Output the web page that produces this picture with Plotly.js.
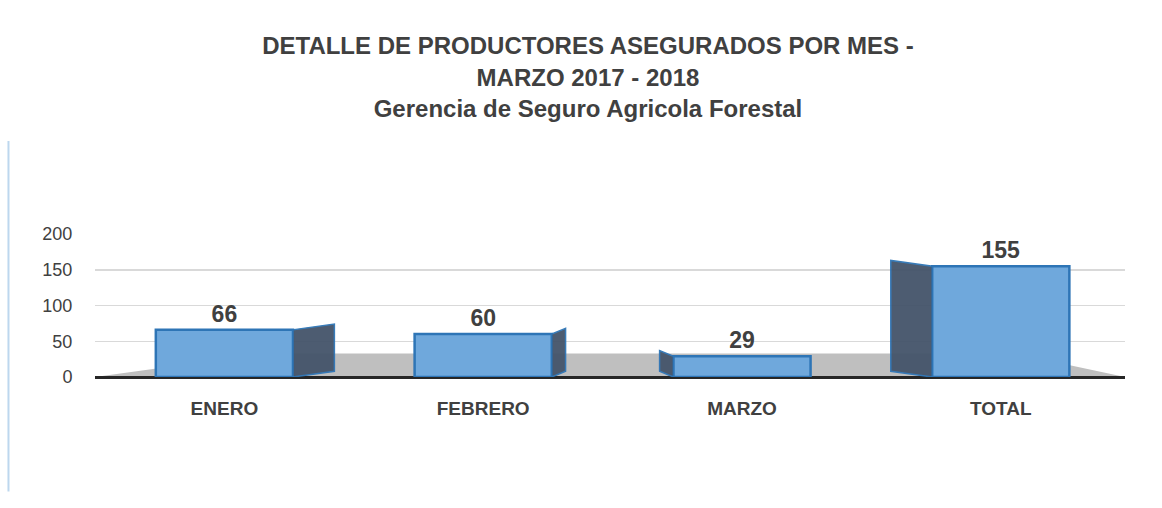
<!DOCTYPE html>
<html>
<head>
<meta charset="utf-8">
<script src="https://cdn.plot.ly/plotly-3.0.1.min.js"></script>
<style>html,body{margin:0;padding:0;background:#fff;}#chart{width:1162px;height:508px;}</style>
</head>
<body>
<div id="chart"></div>
<script>
const categories = ["ENERO", "FEBRERO", "MARZO", "TOTAL"];
const productores = [66, 60, 29, 155];
const yTicks = [0, 50, 100, 150, 200];

const FONT = "'Liberation Sans Narrow', 'Liberation Sans', Arial, sans-serif";
const barWidth = 0.53;

const shapes = [
  // grey floor
  {type: 'path', xref: 'paper', yref: 'y', layer: 'below',
   path: 'M 0 0 L 0.165 33 L 0.893 33 L 1 0 Z', fillcolor: '#bfbfbf', line: {width: 0}},
  // thin blue left border line
  {type: 'line', xref: 'paper', yref: 'paper', x0: -0.084, x1: -0.084, y0: -0.8, y1: 1.65,
   line: {color: '#bdd7ee', width: 2}}
];
// darker side faces derived from the data
productores.forEach((v, i) => {
  const half = barWidth / 2;
  const depth = 0.16 * (1.5 - i) / 1.5;
  const d = Math.abs(depth) < 0.04 ? 0 : depth;
  if (d === 0) return;
  const edge = d > 0 ? i + half : i - half;
  shapes.push({type: 'path', xref: 'x', yref: 'y', layer: 'above',
    path: `M ${edge} 0 L ${edge + d} 8 L ${edge + d} ${v + 8} L ${edge} ${v} Z`,
    fillcolor: '#44546a', opacity: 0.95, line: {color: '#2e75b6', width: 1.5}});
});

const trace = {
  type: 'bar', x: categories, y: productores, width: barWidth,
  marker: {color: '#6fa8dc', line: {color: '#2e75b6', width: 2.5}},
  text: productores.map(String), textposition: 'outside', cliponaxis: false,
  textfont: {family: FONT, size: 23, color: '#404040', weight: 'bold'},
  hoverinfo: 'x+y'
};

const layout = {
  width: 1162, height: 508,
  margin: {l: 95, r: 37, t: 234, b: 131},
  paper_bgcolor: '#ffffff', plot_bgcolor: 'rgba(0,0,0,0)',
  showlegend: false,
  title: {
    text: '<b>DETALLE DE PRODUCTORES ASEGURADOS POR MES -<br>MARZO 2017 - 2018<br>Gerencia de Seguro Agricola Forestal</b>',
    font: {family: FONT, size: 24, color: '#404040'},
    x: 0.506, xanchor: 'center', xref: 'container',
    y: 0.893, yanchor: 'top', yref: 'container'
  },
  xaxis: {
    type: 'category', range: [-0.5, 3.48],
    showgrid: false, zeroline: false, showline: false,
    ticks: 'outside', ticklen: 14, tickcolor: 'rgba(0,0,0,0)',
    tickfont: {family: FONT, size: 19, color: '#404040', weight: 'bold'}
  },
  yaxis: {
    range: [0, 200], tickvals: yTicks,
    showgrid: true, gridcolor: '#d9d9d9', gridwidth: 1.5,
    zeroline: true, zerolinecolor: '#262626', zerolinewidth: 3,
    showline: false,
    ticks: 'outside', ticklen: 18, tickcolor: 'rgba(0,0,0,0)',
    tickfont: {family: "'Liberation Sans', Arial, sans-serif", size: 18, color: '#404040'}
  },
  shapes: shapes,
  bargap: 0.47
};

Plotly.newPlot('chart', [trace], layout, {displayModeBar: false, staticPlot: true});
</script>
</body>
</html>
